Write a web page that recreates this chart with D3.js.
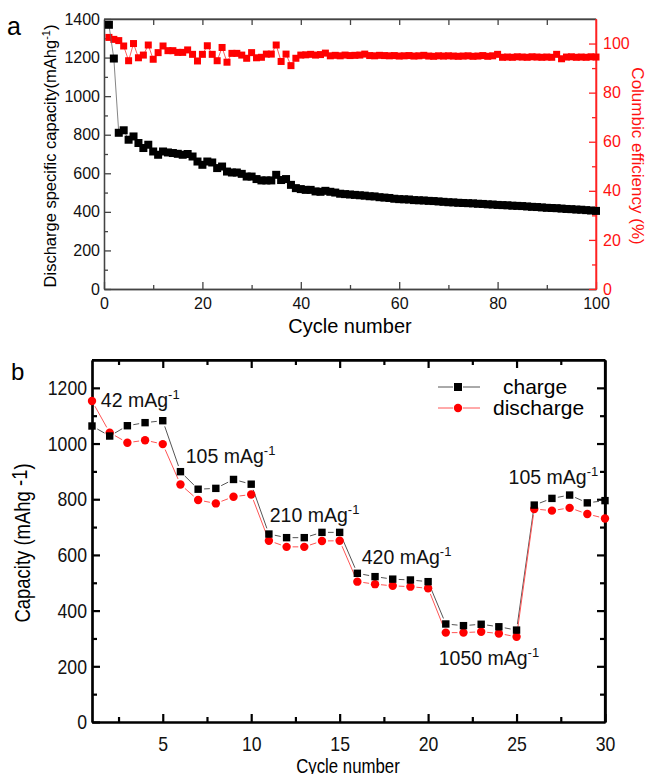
<!DOCTYPE html>
<html>
<head>
<meta charset="utf-8">
<script src="https://cdn.jsdelivr.net/npm/d3@7"></script>
<style>
  body { margin: 0; background: #fff; }
  svg { font-family: "Liberation Sans", Arial, sans-serif; display: block; }
</style>
</head>
<body>
<div id="chart"></div>
<script>
// ---- panel a: cycling data (cycles 1..100) ----
const capacityA = [1370,1195,810,823,774,791,757,731,748,713,
  696,713,708,705,701,696,700,687,661,644,
  661,656,627,635,609,604,604,597,583,583,
  570,563,563,563,592,565,570,540,523,518,
  514,514,506,504,509,504,500,494,492,490,
  488,486,484,481,480,476,474,472,468,466,
  465,464,461,460,459,457,456,454,452,450,
  449,447,446,445,444,442,441,439,438,436,
  435,434,432,431,430,428,426,425,423,421,
  420,419,417,415,414,412,411,409,407,405];
const efficiencyA = [102.5,101.7,101.2,99,93,100,94.2,95.3,99.4,93.6,
  96.3,99,97.1,97.1,96.4,96.4,97.4,95.6,92.9,95.6,
  99.1,95.6,93,98.4,92.4,96,96,95.3,94,96.3,
  94.2,94.4,95.7,95.7,99.4,92.7,95.7,91,94,95.3,
  95.4,95.6,95.3,95.5,96.1,95.0,95.2,95.0,95.3,95.1,
  95.2,95.3,95.7,95.1,95.0,95.2,95.1,95.0,95.1,94.9,
  95.0,95.1,94.9,95.0,95.2,94.9,94.8,95.0,94.9,95.0,
  94.9,94.8,94.9,95.0,94.8,94.9,95.1,94.8,95.0,95.6,
  94.4,94.5,94.4,94.6,94.5,94.4,94.6,94.5,94.4,94.5,
  94.4,95.6,93.8,94.5,94.6,94.4,94.5,94.4,94.6,94.5];
const cyclesA = d3.range(1, 101);

// ---- panel b: rate capability (cycles 1..30) ----
const chargeB = [1063,1027,1064,1075,1082,899,836,839,871,854,
  675,662,662,681,681,534,522,513,510,504,
  352,346,351,342,330,779,803,815,787,795];
const dischargeB = [1153,1039,1003,1012,998,853,797,785,809,817,
  651,629,629,650,651,504,495,489,486,480,
  321,321,324,318,306,765,759,769,747,731];
const cyclesB = d3.range(1, 31);
const rateLabels = ["42", "105", "210", "420", "1050", "105"];
// where each rate label sits, in data units (cycle, capacity)
const rateAt = [[1.5, 1131], [6.3, 930], [11.05, 718], [16.25, 567], [20.6, 205], [24.55, 854]];

const W = 650, H = 774;
const svg = d3.select("#chart").append("svg").attr("width", W).attr("height", H);

// inward ticks helper
function ticks(g, axis, vals, size, pad, fmt) {
  g.call(axis.tickValues(vals).tickSize(size).tickSizeOuter(0).tickPadding(pad).tickFormat(fmt));
}
// squeeze a text horizontally (the original uses a condensed face)
function condense(sel, k) {
  sel.each(function () {
    const w = this.getComputedTextLength();
    if (w > 0) d3.select(this).attr("textLength", w * k).attr("lengthAdjust", "spacingAndGlyphs");
  });
}

// ================= panel a =================
const xa = d3.scaleLinear().domain([0, 100]).range([104, 596]);
const ya = d3.scaleLinear().domain([0, 1400]).range([289, 19]);
const yr = d3.scaleLinear().domain([0, 110]).range([289, 19]);
const grayA = "#444";

// frame top
svg.append("line").attr("x1", 104).attr("x2", 596).attr("y1", 19).attr("y2", 19)
  .attr("stroke", "#777").attr("stroke-width", 1.3);

// bottom axis
const gxa = svg.append("g").attr("transform", "translate(0,289)");
ticks(gxa, d3.axisBottom(xa), d3.range(0, 101, 20), -7, 9, d3.format("d"));
const gxam = svg.append("g").attr("transform", "translate(0,289)");
ticks(gxam, d3.axisBottom(xa), d3.range(10, 100, 20), -4, 0, "");
// top axis
const gxt = svg.append("g").attr("transform", "translate(0,19)");
ticks(gxt, d3.axisTop(xa), d3.range(10, 100, 10), -6, 0, "");

// left axis
const gya = svg.append("g").attr("transform", "translate(104,0)");
ticks(gya, d3.axisLeft(ya), d3.range(0, 1401, 200), -7, 4, d3.format("d"));
const gyam = svg.append("g").attr("transform", "translate(104,0)");
ticks(gyam, d3.axisLeft(ya), d3.range(100, 1400, 200), -4, 0, "");

[gxa, gxam, gxt, gya, gyam].forEach(g => {
  g.selectAll("path,line").attr("stroke", grayA).attr("stroke-width", 1.3);
  g.selectAll("text").attr("fill", "#111").style("font-size", "16px");
});
gxa.selectAll(".domain").attr("stroke", "#555");

// right axis (red)
const gyr = svg.append("g").attr("transform", "translate(596,0)");
ticks(gyr, d3.axisRight(yr), d3.range(0, 101, 20), -7, 7, d3.format("d"));
const gyrm = svg.append("g").attr("transform", "translate(596,0)");
ticks(gyrm, d3.axisRight(yr), d3.range(10, 110, 20), -4, 0, "");
[gyr, gyrm].forEach(g => {
  g.selectAll("path,line").attr("stroke", "#f22").attr("stroke-width", 1.3);
  g.selectAll("text").attr("fill", "#f11").style("font-size", "16px");
});
svg.append("line").attr("x1", 596).attr("x2", 596).attr("y1", 19).attr("y2", 289)
  .attr("stroke", "#f22").attr("stroke-width", 1.3);

// series a
svg.append("path").datum(cyclesA)
  .attr("d", d3.line().x(d => xa(d)).y((d, i) => yr(efficiencyA[i])))
  .attr("fill", "none").attr("stroke", "#f33").attr("stroke-width", 0.8);
svg.append("g").selectAll("rect").data(cyclesA).join("rect")
  .attr("x", d => xa(d) - 3.5).attr("y", (d, i) => yr(efficiencyA[i]) - 3.5)
  .attr("width", 7).attr("height", 7).attr("fill", "#ff0000");

svg.append("path").datum(cyclesA)
  .attr("d", d3.line().x(d => xa(d)).y((d, i) => ya(capacityA[i])))
  .attr("fill", "none").attr("stroke", "#666").attr("stroke-width", 0.8);
svg.append("g").selectAll("rect").data(cyclesA).join("rect")
  .attr("x", d => xa(d) - 4).attr("y", (d, i) => ya(capacityA[i]) - 4)
  .attr("width", 8).attr("height", 8).attr("fill", "#000");

// labels a
svg.append("text").attr("x", 7).attr("y", 35).style("font-size", "25px").text("a");
svg.append("text").attr("x", 350).attr("y", 333).attr("text-anchor", "middle")
  .style("font-size", "20px").text("Cycle number");
const lblA = svg.append("text").attr("transform", "translate(56,156) rotate(-90)")
  .attr("text-anchor", "middle").style("font-size", "16.5px");
lblA.append("tspan").text("Discharge specific capacity(mAhg");
lblA.append("tspan").attr("dy", -6).style("font-size", "11px").text("-1");
lblA.append("tspan").attr("dy", 6).text(")");
svg.append("text").attr("transform", "translate(632,156) rotate(90)")
  .attr("text-anchor", "middle").attr("fill", "#f11").style("font-size", "17px")
  .text("Columbic efficiency (%)");

// ================= panel b =================
const xb = d3.scaleLinear().domain([1, 30]).range([92, 605]);
const yb = d3.scaleLinear().domain([0, 1300]).range([722, 360]);

svg.append("line").attr("x1", 92).attr("x2", 605).attr("y1", 360).attr("y2", 360)
  .attr("stroke", "#000").attr("stroke-width", 2.2);
svg.append("line").attr("x1", 605).attr("x2", 605).attr("y1", 360).attr("y2", 722)
  .attr("stroke", "#000").attr("stroke-width", 2.2);

const gxb = svg.append("g").attr("transform", "translate(0,722)");
ticks(gxb, d3.axisBottom(xb), d3.range(5, 31, 5), -8, 14, d3.format("d"));
const gxbm = svg.append("g").attr("transform", "translate(0,722)");
ticks(gxbm, d3.axisBottom(xb), d3.range(2.5, 30, 5), -5, 0, "");
const gxbt = svg.append("g").attr("transform", "translate(0,360)");
ticks(gxbt, d3.axisTop(xb), d3.range(5, 30, 5), -8, 0, "");
const gxbtm = svg.append("g").attr("transform", "translate(0,360)");
ticks(gxbtm, d3.axisTop(xb), d3.range(2.5, 30, 5), -5, 0, "");
const gyb = svg.append("g").attr("transform", "translate(92,0)");
ticks(gyb, d3.axisLeft(yb), d3.range(0, 1201, 200), -8, 5, d3.format("d"));
const gybm = svg.append("g").attr("transform", "translate(92,0)");
ticks(gybm, d3.axisLeft(yb), d3.range(100, 1300, 200), -5, 0, "");
const gybr = svg.append("g").attr("transform", "translate(605,0)");
ticks(gybr, d3.axisRight(yb), d3.range(200, 1300, 200), -8, 0, "");
const gybrm = svg.append("g").attr("transform", "translate(605,0)");
ticks(gybrm, d3.axisRight(yb), d3.range(100, 1300, 200), -5, 0, "");
[gxb, gxbm, gxbt, gxbtm, gyb, gybm, gybr, gybrm].forEach(g => {
  g.selectAll("path,line").attr("stroke", "#000").attr("stroke-width", 2.2);
  g.selectAll("text").attr("fill", "#111").style("font-size", "21px");
  condense(g.selectAll("text"), 0.84);
});

// line with gaps at the symbols
function gapLine(vals, color, gap) {
  const pts = cyclesB.map((c, i) => [xb(c), yb(vals[i])]);
  const segs = [];
  for (let i = 0; i < pts.length - 1; i++) {
    const [x1, y1] = pts[i], [x2, y2] = pts[i + 1];
    const len = Math.hypot(x2 - x1, y2 - y1);
    if (len <= 2 * gap) continue;
    const ux = (x2 - x1) / len, uy = (y2 - y1) / len;
    segs.push([x1 + ux * gap, y1 + uy * gap, x2 - ux * gap, y2 - uy * gap]);
  }
  svg.append("g").selectAll("line").data(segs).join("line")
    .attr("x1", d => d[0]).attr("y1", d => d[1]).attr("x2", d => d[2]).attr("y2", d => d[3])
    .attr("stroke", color).attr("stroke-width", 1);
}
gapLine(chargeB, "#555", 6);
gapLine(dischargeB, "#f55", 6);

svg.append("g").selectAll("circle").data(cyclesB).join("circle")
  .attr("cx", d => xb(d)).attr("cy", (d, i) => yb(dischargeB[i])).attr("r", 4.2)
  .attr("fill", "#ff0000");
svg.append("g").selectAll("rect").data(cyclesB).join("rect")
  .attr("x", d => xb(d) - 3.7).attr("y", (d, i) => yb(chargeB[i]) - 3.7)
  .attr("width", 7.4).attr("height", 7.4).attr("fill", "#000");

// rate annotations
rateLabels.forEach((r, i) => {
  const t = svg.append("text").attr("x", xb(rateAt[i][0])).attr("y", yb(rateAt[i][1]))
    .style("font-size", "19.5px").attr("fill", "#111");
  t.append("tspan").text(r + " mAg");
  t.append("tspan").attr("dy", -8).style("font-size", "13px").text("-1");
});

// legend
svg.append("line").attr("x1", 438).attr("x2", 453).attr("y1", 387).attr("y2", 387).attr("stroke", "#555");
svg.append("line").attr("x1", 463).attr("x2", 480).attr("y1", 387).attr("y2", 387).attr("stroke", "#555");
svg.append("rect").attr("x", 454).attr("y", 383).attr("width", 8).attr("height", 8).attr("fill", "#000");
svg.append("line").attr("x1", 438).attr("x2", 453).attr("y1", 408).attr("y2", 408).attr("stroke", "#f55");
svg.append("line").attr("x1", 463).attr("x2", 480).attr("y1", 408).attr("y2", 408).attr("stroke", "#f55");
svg.append("circle").attr("cx", 458).attr("cy", 408).attr("r", 4.2).attr("fill", "#ff0000");
svg.append("text").attr("x", 503).attr("y", 394).style("font-size", "21px").text("charge");
svg.append("text").attr("x", 493).attr("y", 415).style("font-size", "21px").text("discharge");

// labels b
svg.append("text").attr("x", 11).attr("y", 380).style("font-size", "24px").text("b");
const xtB = svg.append("text").attr("x", 348).attr("y", 773).attr("text-anchor", "middle")
  .style("font-size", "21px").text("Cycle number");
condense(xtB, 0.8);
const lblB = svg.append("text").attr("transform", "translate(30,543) rotate(-90)")
  .attr("text-anchor", "middle").style("font-size", "22px");
lblB.append("tspan").text("Capacity (mAhg ");
lblB.append("tspan").attr("dy", -3).text("-1");
lblB.append("tspan").attr("dy", 3).text(")");
lblB.selectAll("tspan").each(function () {
  const w = this.getComputedTextLength();
  d3.select(this).attr("textLength", w * 0.84).attr("lengthAdjust", "spacingAndGlyphs");
});
</script>
</body>
</html>
